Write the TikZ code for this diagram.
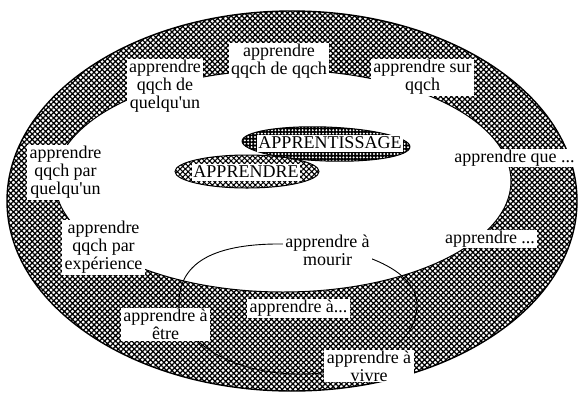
\documentclass[tikz,border=0pt]{standalone}
\usepackage{fontspec}
\setmainfont{Liberation Serif}
\usetikzlibrary{patterns.meta}
\begin{document}
\begin{tikzpicture}[x=1pt,y=-1pt,
  lbl/.style={fill=white, inner xsep=2.5pt, inner ysep=1pt, align=center, font=\fontsize{18}{18}\selectfont},
  caps/.style={lbl, inner xsep=1.5pt, inner ysep=1.5pt, text height=12pt, text depth=1.5pt},
  band/.style={pattern={Hatch[angle=45,distance=3.8pt,line width=1.25pt]}, pattern color=black},
  bandlight/.style={pattern={Hatch[angle=45,distance=3.8pt,line width=1.05pt]}, pattern color=black},
  dotsfill/.style={pattern={Dots[distance=3.4pt,radius=1.1pt]}, pattern color=white}]
\useasboundingbox (0,0) rectangle (578,392);
% outer band
\path[band] (292,201) ellipse [x radius=285pt, y radius=190pt];
\draw[line width=1.4pt] (292,201) ellipse [x radius=285pt, y radius=190pt];
% inner white area
\draw[fill=white, line width=1pt] (283,181) ellipse [x radius=228pt, y radius=111pt];
% APPRENTISSAGE ellipse
\fill[black, rotate around={-2:(326,144)}] (326,144) ellipse [x radius=84pt, y radius=17pt];
\path[dotsfill, rotate around={-2:(326,144)}] (326,144) ellipse [x radius=84pt, y radius=17pt];
\draw[line width=1pt, rotate around={-2:(326,144)}] (326,144) ellipse [x radius=84pt, y radius=17pt];
% APPRENDRE ellipse
\fill[white] (247,171.5) ellipse [x radius=72pt, y radius=16.5pt];
\path[bandlight] (247,171.5) ellipse [x radius=72pt, y radius=16.5pt];
\draw[line width=1pt] (247,171.5) ellipse [x radius=72pt, y radius=16.5pt];
% loop
\draw[line width=0.9pt] (285,244) .. controls (215,243) and (179,262) .. (179,303)
  .. controls (179,342) and (233,374) .. (300,374)
  .. controls (367,374) and (417,345) .. (417,305)
  .. controls (417,265) and (345,244) .. cycle;
% labels
\node[lbl] (qdq) at (165,86.5) {apprendre\\qqch de\\quelqu\textquotesingle un};
\node[lbl] (qdqq) at (279,61.5) {apprendre\\qqch de qqch};
\node[lbl] (sur) at (422.5,77.5) {apprendre sur\\qqch};
\node[lbl] (que) at (514.5,158) {apprendre que ...};
\node[lbl] (pts) at (490,239) {apprendre ...};
\node[lbl] (parq) at (65.5,172.5) {apprendre\\qqch par\\quelqu\textquotesingle un};
\node[lbl] (exp) at (103.5,247.5) {apprendre\\qqch par\\expérience};
\node[lbl] (mourir) at (327.5,250) {apprendre à\\mourir};
\node[lbl] (ah) at (298.5,308.5) {apprendre à...};
\node[lbl] (etre) at (165.5,324.5) {apprendre à\\être};
\node[lbl] (vivre) at (369,366) {apprendre à\\vivre};
\node[caps] (apprentissage) at (330,143.5) {APPRENTISSAGE};
\node[caps] (apprendre) at (246,172.5) {APPRENDRE};
\end{tikzpicture}
\end{document}
